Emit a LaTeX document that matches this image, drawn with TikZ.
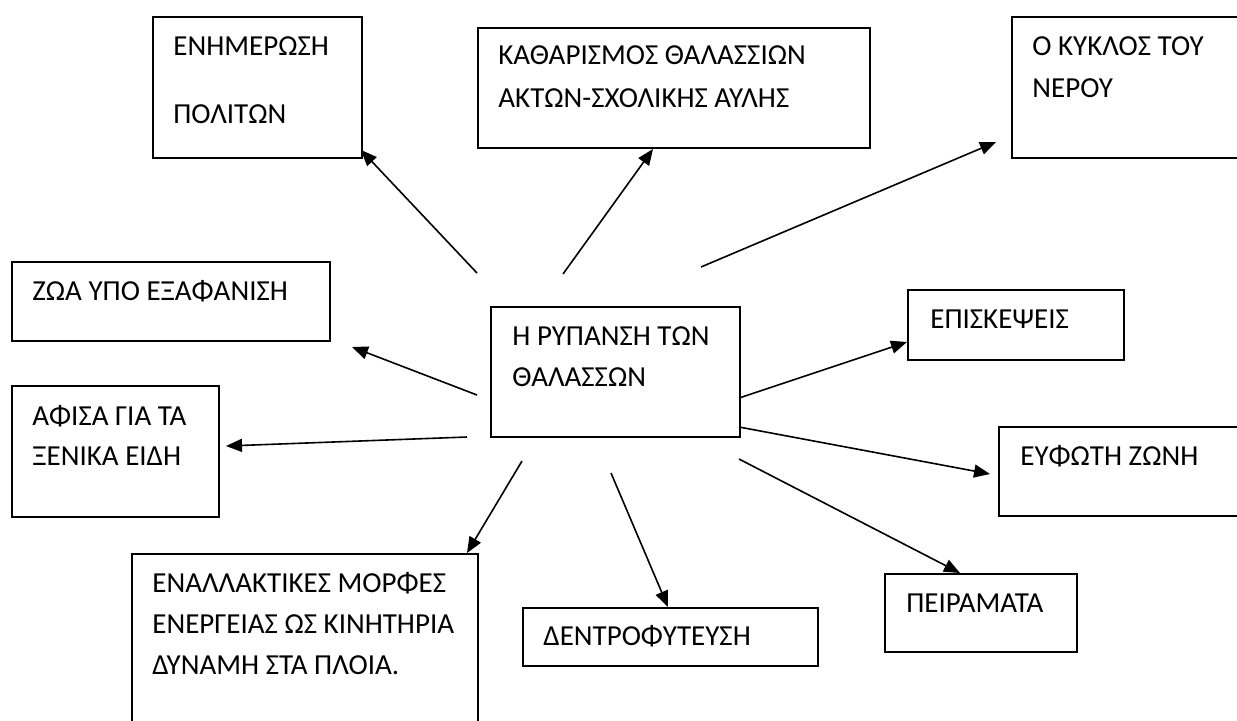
\documentclass[tikz,border=0pt]{standalone}
\usepackage{fontspec}
\setmainfont{Carlito}
\usetikzlibrary{arrows.meta}
\tikzset{
  box/.style={draw=black, line width=1pt, fill=white, inner sep=0pt, anchor=north west},
  lbl/.style={inner sep=0pt, anchor=base west, font=\fontsize{14.5pt}{17pt}\selectfont},
  arr/.style={line width=0.8pt, -{Triangle[length=8pt,width=6.5pt]}}
}
\begin{document}
\begin{tikzpicture}[x=0.5pt,y=-0.5pt]
\fill[white] (0,0) rectangle (1237,720);
\clip (0,0) rectangle (1237,720);
% boxes
\node[box, minimum width=104.5pt, minimum height=70.5pt] (enim) at (152,16) {};
\node[box, minimum width=196pt, minimum height=60pt] (kath) at (477,27) {};
\node[box, minimum width=119.5pt, minimum height=70.5pt] (kyk) at (1011,16) {};
\node[box, minimum width=159pt, minimum height=39.5pt] (zoa) at (11,261) {};
\node[box, minimum width=103.5pt, minimum height=65.5pt] (afisa) at (11,385) {};
\node[box, minimum width=124.5pt, minimum height=65pt] (center) at (490,306) {};
\node[box, minimum width=108pt, minimum height=35pt] (epis) at (907,289) {};
\node[box, minimum width=126pt, minimum height=44.5pt] (eyf) at (998,426) {};
\node[box, minimum width=96pt, minimum height=39pt] (peir) at (884,573) {};
\node[box, minimum width=147.5pt, minimum height=29pt] (dendro) at (522,607) {};
\node[box, minimum width=173pt, minimum height=88.5pt] (enal) at (131,553) {};
% texts
\node[lbl] (enim1) at (173,55) {ΕΝΗΜΕΡΩΣΗ};
\node[lbl] (enim2) at (173,123) {ΠΟΛΙΤΩΝ};
\node[lbl] (kath1) at (498,64) {ΚΑΘΑΡΙΣΜΟΣ ΘΑΛΑΣΣΙΩΝ};
\node[lbl] (kath2) at (498,107) {ΑΚΤΩΝ-ΣΧΟΛΙΚΗΣ ΑΥΛΗΣ};
\node[lbl] (kyk1) at (1032,55) {Ο ΚΥΚΛΟΣ ΤΟΥ};
\node[lbl] (kyk2) at (1032,97) {ΝΕΡΟΥ};
\node[lbl] (zoa1) at (32,300) {ΖΩΑ ΥΠΟ ΕΞΑΦΑΝΙΣΗ};
\node[lbl] (afisa1) at (32,425) {ΑΦΙΣΑ ΓΙΑ ΤΑ};
\node[lbl] (afisa2) at (32,465) {ΞΕΝΙΚΑ ΕΙΔΗ};
\node[lbl] (center1) at (512,345) {Η ΡΥΠΑΝΣΗ ΤΩΝ};
\node[lbl] (center2) at (512,386) {ΘΑΛΑΣΣΩΝ};
\node[lbl] (epis1) at (930,328) {ΕΠΙΣΚΕΨΕΙΣ};
\node[lbl] (eyf1) at (1020,465) {ΕΥΦΩΤΗ ΖΩΝΗ};
\node[lbl] (peir1) at (906,612) {ΠΕΙΡΑΜΑΤΑ};
\node[lbl] (dendro1) at (543,645) {ΔΕΝΤΡΟΦΥΤΕΥΣΗ};
\node[lbl] (enal1) at (152,592) {ΕΝΑΛΛΑΚΤΙΚΕΣ ΜΟΡΦΕΣ};
\node[lbl] (enal2) at (152,633) {ΕΝΕΡΓΕΙΑΣ ΩΣ ΚΙΝΗΤΗΡΙΑ};
\node[lbl] (enal3) at (152,674) {ΔΥΝΑΜΗ ΣΤΑ ΠΛΟΙΑ.};
% arrow ends
\coordinate (t1) at (477,273); \coordinate (h1) at (361,150);
\coordinate (t2) at (563,274); \coordinate (h2) at (653,149);
\coordinate (t3) at (701,267); \coordinate (h3) at (996,142);
\coordinate (t4) at (477,395); \coordinate (h4) at (352,347);
\coordinate (t5) at (467,437); \coordinate (h5) at (226,446);
\coordinate (t6) at (522,461); \coordinate (h6) at (467,553);
\coordinate (t7) at (611,473); \coordinate (h7) at (668,607);
\coordinate (t8) at (739,459); \coordinate (h8) at (960,573);
\coordinate (t9) at (739,427); \coordinate (h9) at (990,474);
\coordinate (t10) at (739,398); \coordinate (h10) at (907,342);
\foreach \i in {1,...,10} {\draw[arr] (t\i) -- (h\i);}
\end{tikzpicture}
\end{document}
